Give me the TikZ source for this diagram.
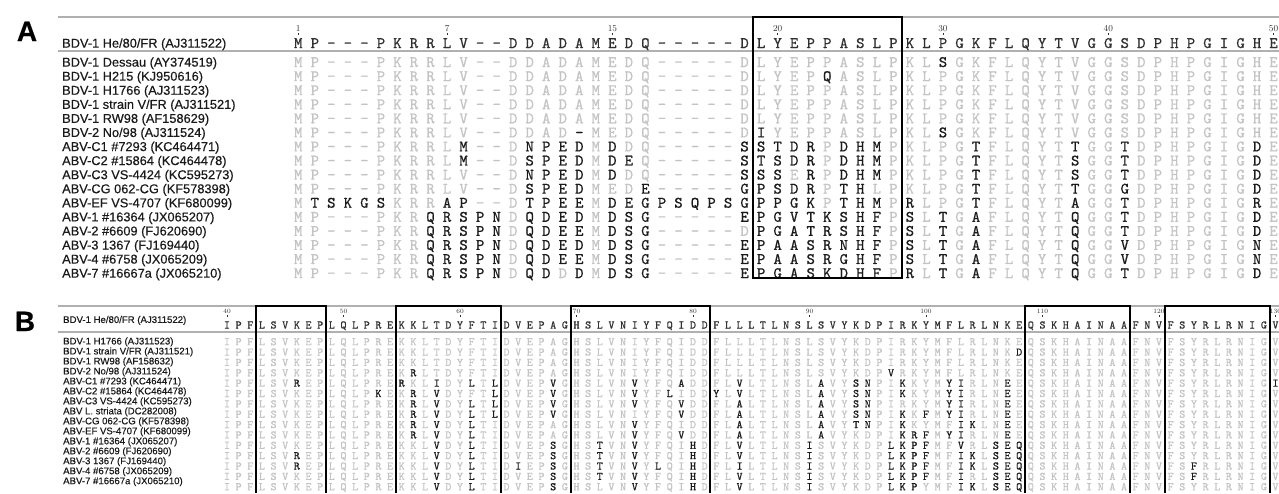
\documentclass[tikz,border=0pt]{standalone}
\usepackage{fontspec}
\newfontfamily\lblfont[FakeBold=0.4]{Liberation Sans}
\newfontfamily\seqfont[Extension=.otf,FakeBold=0.7]{lmmono10-regular}
\newcommand\lblA{\fontsize{12.8}{13}\lblfont}
\newcommand\lblB{\fontsize{9.6}{10}\lblfont}
\definecolor{refgray}{HTML}{303030}
\definecolor{samegray}{HTML}{C4C4C4}
\definecolor{rulegray}{HTML}{B0B0B0}
\definecolor{inkdark}{HTML}{1A1A1A}

\def\refA{M,P,–,–,–,P,K,R,R,L,V,–,–,D,D,A,D,A,M,E,D,Q,–,–,–,–,–,D,L,Y,E,P,P,A,S,L,P,K,L,P,G,K,F,L,Q,Y,T,V,G,G,S,D,P,H,P,G,I,G,H,E}
\def\refB{I,P,F,L,S,V,K,E,P,L,Q,L,P,R,E,K,K,L,T,D,Y,F,T,I,D,V,E,P,A,G,H,S,L,V,N,I,Y,F,Q,I,D,D,F,L,L,L,T,L,N,S,L,S,V,Y,K,D,P,I,R,K,Y,M,F,L,R,L,N,K,E,Q,S,K,H,A,I,N,A,A,F,N,V,F,S,Y,R,L,R,N,I,G,V}

% row/{column/residue,...}: residues that differ from the top sequence
\newcommand\storemuts[2]{%
  \foreach \r/\ml in {#2}{%
    \foreach \c/\m in \ml {\expandafter\xdef\csname mut#1-\r-\c\endcsname{\m}}}}

\storemuts{A}{1/{40/S},2/{33/Q},6/{18/–,29/I,40/S},
 7/{11/M,15/N,16/P,17/E,18/D,20/D,28/S,29/S,30/T,31/D,32/R,34/D,35/H,36/M,42/T,48/T,51/T,59/D},
 8/{11/M,15/S,16/P,17/E,18/D,20/D,21/E,28/S,29/T,30/S,31/D,32/R,34/D,35/H,36/M,42/T,48/S,51/T,59/D},
 9/{15/N,16/P,17/E,18/D,20/D,28/S,29/S,30/S,32/R,34/D,35/H,36/M,42/T,48/S,51/T,59/D},
 10/{15/S,16/P,17/E,18/D,22/E,28/G,29/P,30/S,31/D,32/R,34/T,35/H,42/T,48/T,51/G,59/D},
 11/{2/T,3/S,4/K,5/G,6/S,10/A,11/P,15/T,16/P,17/E,18/E,20/D,21/E,22/G,23/P,24/S,25/Q,26/P,27/S,28/G,29/P,30/P,31/G,32/K,34/T,35/H,36/M,38/R,42/T,48/A,51/T,59/R},
 12/{9/Q,10/R,11/S,12/P,13/N,15/Q,16/D,17/E,18/D,20/D,21/S,22/G,28/E,29/P,30/G,31/V,32/T,33/K,34/S,35/H,36/F,38/S,40/T,42/A,48/Q,51/T,59/D},
 13/{9/Q,10/R,11/S,12/P,13/N,15/Q,16/D,17/E,18/E,20/D,21/S,22/G,29/P,30/G,31/A,32/T,33/R,34/S,35/H,36/F,38/S,40/T,42/A,48/Q,51/T,59/D},
 14/{9/Q,10/R,11/S,12/P,13/N,15/Q,16/D,17/E,18/D,20/D,21/S,22/G,28/E,29/P,30/A,31/A,32/S,33/R,34/N,35/H,36/F,38/S,40/T,42/A,48/Q,51/V,59/N},
 15/{9/Q,10/R,11/S,12/P,13/N,15/Q,16/D,17/E,18/E,20/D,21/S,22/G,28/E,29/P,30/A,31/A,32/S,33/R,34/G,35/H,36/F,38/S,40/T,42/A,48/Q,51/V,59/N},
 16/{9/Q,10/R,11/S,12/P,13/N,15/Q,16/D,18/D,20/D,21/S,22/G,28/E,29/P,30/G,31/A,32/S,33/K,34/D,35/H,36/F,38/R,40/T,42/A,48/Q,51/T,59/D}}

\storemuts{B}{2/{69/D},4/{17/R,58/V},
 5/{7/R,16/R,19/I,22/L,24/L,29/V,36/V,40/A,45/V,52/A,55/S,56/N,59/K,63/Y,64/I,68/E,91/I},
 6/{14/K,17/R,19/V,24/L,29/V,36/V,39/L,43/Y,45/V,52/A,55/S,56/N,59/K,63/Y,64/I,68/E},
 7/{17/R,19/V,22/L,24/L,29/V,36/V,40/V,45/A,52/A,55/S,56/N,63/Y,64/I,68/E},
 8/{17/R,19/V,22/L,24/L,29/V,40/V,45/A,52/A,55/S,56/N,59/K,61/F,63/Y,64/I,68/E},
 9/{17/R,19/V,22/L,36/V,45/A,52/A,55/T,56/N,59/K,64/I,65/K,68/E},
 10/{17/R,19/V,22/L,36/V,40/V,45/A,52/A,59/K,60/R,61/F,63/Y,64/I,68/E},
 11/{19/V,22/L,29/S,33/T,36/V,41/H,45/V,51/I,58/L,59/K,60/P,61/F,64/V,67/S,68/E,69/Q},
 12/{7/R,19/V,22/L,29/S,33/T,36/V,41/H,45/V,51/I,58/L,59/K,60/P,61/F,64/I,65/K,67/S,68/E,69/Q},
 13/{7/R,19/V,22/L,26/I,29/S,33/T,36/V,38/L,41/H,45/I,51/I,58/L,59/K,60/P,61/F,64/I,65/K,67/S,68/E,69/Q,84/F},
 14/{19/V,22/L,29/S,33/T,36/V,41/H,45/V,51/I,58/L,59/K,60/P,61/F,64/I,67/S,68/E,69/Q,84/F},
 15/{19/V,22/L,29/S,36/V,41/H,45/V,51/I,58/L,59/K,60/P,64/I,65/K,67/S,68/E,69/Q}}

\tikzset{
  res/.style={inner sep=0pt, text depth=0pt},
  resA/.style={res, font=\fontsize{16}{16}\seqfont, text height=10pt},
  resB/.style={res, font=\fontsize{11.5}{12}\seqfont, text height=7pt},
  refres/.style={text=refgray},
  sameres/.style={text=samegray},
  diffres/.style={text=inkdark},
  rowname/.style={anchor=west, inner sep=0pt, text depth=0pt, text=inkdark},
  posnum/.style={inner sep=0pt, text depth=0pt, text=refgray},
  tickmark/.style={refgray, line width=0.6pt},
  rule/.style={rulegray, line width=1.5pt},
  motifbox/.style={black, line width=2pt},
  panel/.style={font=\fontsize{28}{28}\lblfont\bfseries, inner sep=0pt, text height=20pt, text depth=0pt}
}

\begin{document}
\begin{tikzpicture}[x=1pt,y=-1pt]
\useasboundingbox (0,0) rectangle (1279,493);
\fill[white] (0,0) rectangle (1279,493);

% A
\node[panel] (pa) at (27,31) {A};
\draw[rule] (58,17) -- (1279,17);
\draw[rule] (58,51) -- (1279,51);
\node[rowname,font=\lblA,text height=9.2pt] (la0) at (62,43) {BDV-1 He/80/FR (AJ311522)};
\foreach \aa [count=\c] in \refA
  \node[resA,refres] (a0-\c) at ({298.3+(\c-1)*16.53},43) {\aa};
\foreach \n/\c in {1/1,7/10,15/20,20/30,30/40,40/50,50/60}{
  \node[posnum,font=\fontsize{9}{9}\selectfont,text height=6pt] (numa\n) at ({298.3+(\c-1)*16.53},28.5) {\n};
  \draw[tickmark] (numa\n.south) ++(0,1.2) -- ++(0,2.5);
}
\foreach \lab [count=\r] in {BDV-1 Dessau (AY374519),BDV-1 H215 (KJ950616),BDV-1 H1766 (AJ311523),
  BDV-1 strain V/FR (AJ311521),BDV-1 RW98 (AF158629),BDV-2 No/98 (AJ311524),ABV-C1 \#7293 (KC464471),
  ABV-C2 \#15864 (KC464478),ABV-C3 VS-4424 (KC595273),ABV-CG 062-CG (KF578398),ABV-EF VS-4707 (KF680099),
  ABV-1 \#16364 (JX065207),ABV-2 \#6609 (FJ620690),ABV-3 1367 (FJ169440),ABV-4 \#6758 (JX065209),
  ABV-7 \#16667a (JX065210)}
  \node[rowname,font=\lblA,text height=9.2pt] (la\r) at (62,{62+(\r-1)*14.07}) {\lab};
\foreach \r in {1,...,16}
  \foreach \aa [count=\c] in \refA {
    \ifcsname mutA-\r-\c\endcsname
      \node[resA,diffres] (a\r-\c) at ({298.3+(\c-1)*16.53},{62+(\r-1)*14.07}) {\csname mutA-\r-\c\endcsname};
    \else
      \node[resA,sameres] (a\r-\c) at ({298.3+(\c-1)*16.53},{62+(\r-1)*14.07}) {\aa};
    \fi
  }
\draw[motifbox] ({298.3+27.5*16.53},17) rectangle ({298.3+36.5*16.53},278);

% B
\node[panel] (pb) at (25,321) {B};
\draw[rule] (58,306) -- (1279,306);
\draw[rule] (58,332) -- (1279,332);
\node[rowname,font=\lblB,text height=6.9pt] (lb0) at (63,319.5) {BDV-1 He/80/FR (AJ311522)};
\foreach \aa [count=\c] in \refB
  \node[resB,refres] (b0-\c) at ({227+(\c-1)*11.65},325) {\aa};
\foreach \n/\c in {40/1,50/11,60/21,70/31,80/41,90/51,100/61,110/71,120/81,130/91}{
  \node[posnum,font=\fontsize{6.5}{7}\selectfont,text height=4.5pt] (numb\n) at ({227+(\c-1)*11.65},311.5) {\n};
  \draw[tickmark] (numb\n.south) ++(0,0.8) -- ++(0,2);
}
\foreach \lab [count=\r] in {BDV-1 H1766 (AJ311523),BDV-1 strain V/FR (AJ311521),BDV-1 RW98 (AF158632),
  BDV-2 No/98 (AJ311524),ABV-C1 \#7293 (KC464471),ABV-C2 \#15864 (KC464478),ABV-C3 VS-4424 (KC595273),
  ABV L. striata (DC282008),ABV-CG 062-CG (KF578398),ABV-EF VS-4707 (KF680099),ABV-1 \#16364 (JX065207),
  ABV-2 \#6609 (FJ620690),ABV-3 1367 (FJ169440),ABV-4 \#6758 (JX065209),ABV-7 \#16667a (JX065210)}
  \node[rowname,font=\lblB,text height=6.9pt] (lb\r) at (63,{341+(\r-1)*9.98}) {\lab};
\foreach \r in {1,...,15}
  \foreach \aa [count=\c] in \refB {
    \ifcsname mutB-\r-\c\endcsname
      \node[resB,diffres] (b\r-\c) at ({227+(\c-1)*11.65},{341.7+(\r-1)*10.36}) {\csname mutB-\r-\c\endcsname};
    \else
      \node[resB,sameres] (b\r-\c) at ({227+(\c-1)*11.65},{341.7+(\r-1)*10.36}) {\aa};
    \fi
  }
\foreach \s/\e in {4/9,16/24,31/42,70/78,82/90}
  \draw[motifbox] ({227+(\s-1.5)*11.65},493) |- ({227+(\e-0.5)*11.65},306) -- ({227+(\e-0.5)*11.65},493);
\end{tikzpicture}
\end{document}
